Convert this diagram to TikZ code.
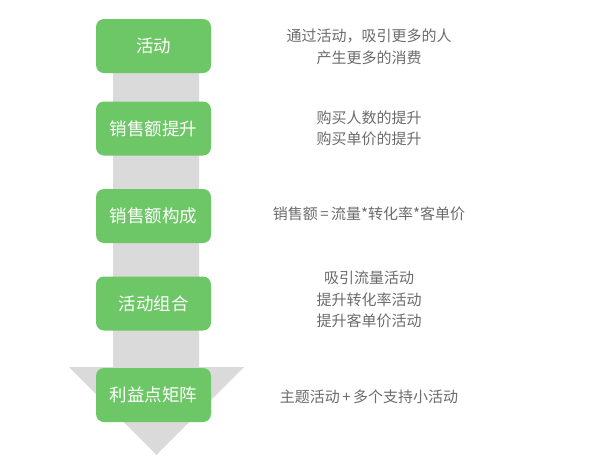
\documentclass[tikz,border=0pt]{standalone}
\usepackage{fontspec}
\setmainfont{Noto Sans CJK SC}
\usetikzlibrary{positioning}
\definecolor{BoxGreen}{HTML}{6DC766}
\definecolor{ShaftGray}{HTML}{DADADA}
\definecolor{NoteGray}{HTML}{6B6B6B}
\tikzset{
	StepBox/.style={
        fill=BoxGreen, rounded corners=8pt, minimum width=115pt, minimum height=54pt,
        text=white, font=\fontsize{17.5}{20}\selectfont, inner sep=0pt
	}
}
\tikzset{
	Note/.style={
        text=NoteGray, align=center, font=\fontsize{15}{21.5}\selectfont, inner sep=0pt
	}
}
\begin{document}
\begin{tikzpicture}[x=1pt,y=-1pt]
\useasboundingbox (0,0) rectangle (607,459);
%Pfeil
\fill[ShaftGray] (113,70)--(199,70)--(199,367)--(244,367)--(156.5,455)--(69,367)--(113,367)--cycle;

\node[StepBox] (huodong) at (153.5,46) {活动};
\node[StepBox] (xse) at (153.5,128.5) {销售额提升};
\node[StepBox] (gc) at (153.5,216) {销售额构成};
\node[StepBox] (zuhe) at (153.5,303.5) {活动组合};
\node[StepBox] (juzhen) at (153.5,395) {利益点矩阵};

\node[Note] (n1) at (369,47) {通过活动，吸引更多的人\\产生更多的消费};
\node[Note] (n2) at (369,128.5) {购买人数的提升\\购买单价的提升};
\node[Note] (n3) at (369,214) {销售额\,=\,流量*转化率*客单价};
\node[Note] (n4) at (369,299.5) {吸引流量活动\\提升转化率活动\\提升客单价活动};
\node[Note] (n5) at (369,397) {主题活动\,+\,多个支持小活动};
\end{tikzpicture}
\end{document}
